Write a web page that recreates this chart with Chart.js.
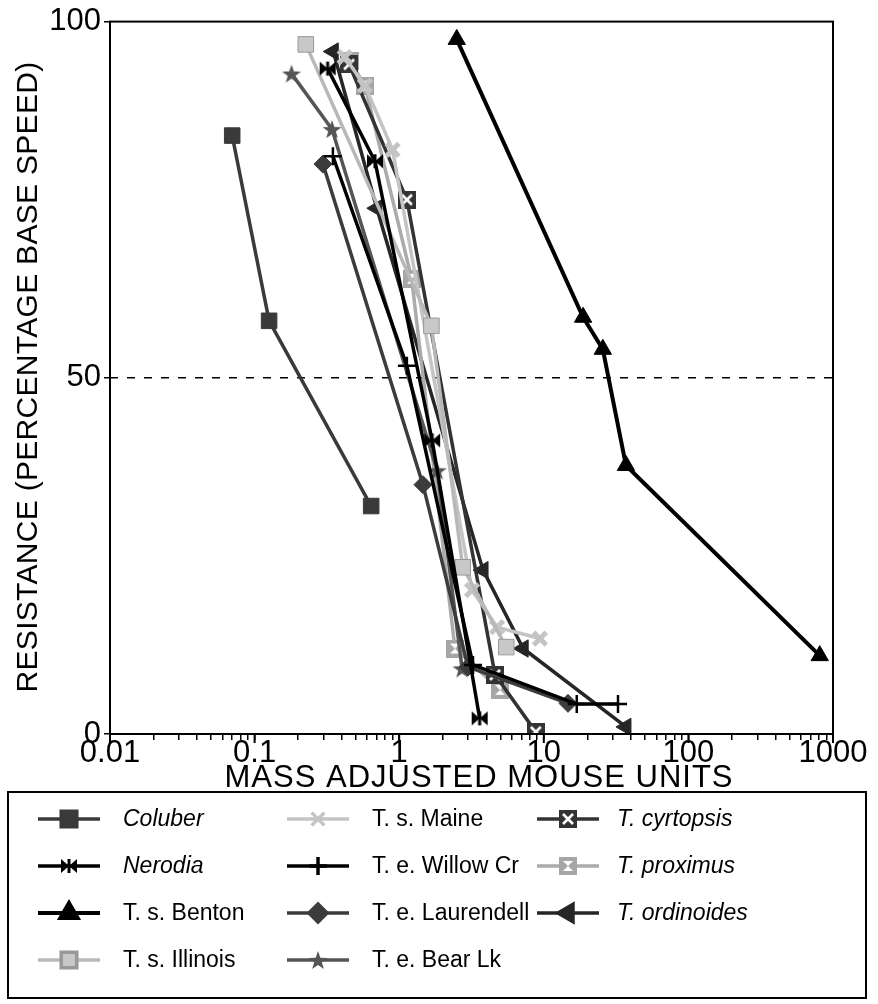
<!DOCTYPE html>
<html lang="en">
<head>
  <meta charset="UTF-8">
  <title>Resistance vs mass adjusted mouse units</title>
  <style>
    body { margin: 0; background: #fff; }
  </style>
</head>
<body>
  <canvas id="chart" width="878" height="1004"></canvas>

  <script src="https://cdn.jsdelivr.net/npm/chart.js"></script>
  <script>
    // data
    const seriesNames = ['Coluber', 'Nerodia', 'T. s. Benton', 'T. s. Illinois', 'T. s. Maine',
      'T. e. Willow Cr', 'T. e. Laurendell', 'T. e. Bear Lk', 'T. cyrtopsis', 'T. proximus', 'T. ordinoides'];
    const italicNames = ['Coluber', 'Nerodia', 'T. cyrtopsis', 'T. proximus', 'T. ordinoides'];

    const coluberX = [0.07, 0.126, 0.64];
    const coluberY = [84, 58, 32];
    const nerodiaX = [0.32, 0.68, 1.69, 3.6];
    const nerodiaY = [93.4, 80.4, 41.2, 2.2];
    const bentonX = [2.5, 18.7, 25.6, 37, 810];
    const bentonY = [97.5, 58.5, 54, 37.7, 11];
    const illinoisX = [0.226, 1.67, 2.75, 5.5];
    const illinoisY = [96.8, 57.3, 23.4, 12.2];
    const maineX = [0.42, 0.58, 0.9, 3.19, 4.75, 9.4];
    const maineY = [95, 91, 82, 20.2, 15, 13.4];
    const willowX = [0.348, 1.13, 3.24, 16.9, 32.6];
    const willowY = [81.1, 51.7, 9.7, 4.2, 4.2];
    const laurendellX = [0.297, 1.46, 2.99, 14.7];
    const laurendellY = [80, 35, 9.4, 4.3];
    const bearX = [0.18, 0.343, 1.83, 2.72];
    const bearY = [92.7, 84.9, 37, 9.2];
    const cyrtopsisX = [0.45, 1.13, 4.6, 8.8];
    const cyrtopsisY = [94, 75, 8.3, 0.3];
    const proximusX = [0.46, 0.58, 1.22, 2.43, 4.98];
    const proximusY = [94.4, 91, 63.9, 12, 6.2];
    const ordinoidesX = [0.35, 0.70, 3.8, 7.2, 37];
    const ordinoidesY = [95.8, 73.8, 23, 12, 1];

    const xTickLabels = [0.01, 0.1, 1, 10, 100, 1000];
    const yTickLabels = [0, 50, 100];
    const halfLine = 50;

    const FONT = '"Liberation Sans", Arial, Helvetica, sans-serif';

    function marker(size, draw) {
      const c = document.createElement('canvas');
      c.width = size; c.height = size;
      draw(c.getContext('2d'), size);
      return c;
    }

    const boxX = marker(18, (g, s) => {
      g.fillStyle = '#333';
      g.fillRect(0, 0, s, s);
      g.strokeStyle = '#fff';
      g.lineWidth = 2.6;
      g.beginPath();
      g.moveTo(4, 4); g.lineTo(s - 4, s - 4);
      g.moveTo(s - 4, 4); g.lineTo(4, s - 4);
      g.stroke();
    });

    const hourglass = marker(18, (g, s) => {
      g.fillStyle = '#a6a6a6';
      g.fillRect(0, 0, s, s);
      g.fillStyle = '#fff';
      g.beginPath();
      g.moveTo(4, 4); g.lineTo(s - 4, 4); g.lineTo(s / 2, s / 2); g.closePath();
      g.moveTo(4, s - 4); g.lineTo(s - 4, s - 4); g.lineTo(s / 2, s / 2); g.closePath();
      g.fill();
    });

    const bowtie = marker(20, (g, s) => {
      g.fillStyle = '#000';
      g.beginPath();
      // two wedges meeting in the middle, plus a short vertical bar
      g.moveTo(2, 3); g.lineTo(s / 2, s / 2); g.lineTo(2, s - 3); g.closePath();
      g.moveTo(s - 2, 3); g.lineTo(s / 2, s / 2); g.lineTo(s - 2, s - 3); g.closePath();
      g.fill();
      g.fillRect(s / 2 - 1.5, 3, 3, s - 6);
    });

    const star = marker(20, (g, s) => {
      g.fillStyle = '#555';
      g.beginPath();
      for (let k = 0; k < 10; k++) {
        const r = k % 2 === 0 ? s / 2 : s / 5;
        const a = -Math.PI / 2 + k * Math.PI / 5;
        const px = s / 2 + r * Math.cos(a), py = s / 2 + 1 + r * Math.sin(a);
        if (k === 0) g.moveTo(px, py); else g.lineTo(px, py);
      }
      g.closePath();
      g.fill();
    });

    const styles = {
      'Coluber':          { color: '#3a3a3a', fill: '#3a3a3a', width: 3.5, point: 'rect', radius: 11 },
      'Nerodia':          { color: '#000', fill: '#000', width: 3.5, point: bowtie, radius: 9 },
      'T. s. Benton':     { color: '#000', fill: '#000', width: 4, point: 'triangle', radius: 10 },
      'T. s. Illinois':   { color: '#b8b8b8', fill: '#c8c8c8', width: 3.5, point: 'rect', radius: 11, border: '#999' },
      'T. s. Maine':      { color: '#c4c4c4', fill: '#c4c4c4', width: 3.5, point: 'crossRot', radius: 9, pbw: 5 },
      'T. e. Willow Cr':  { color: '#000', fill: '#000', width: 3.5, point: 'cross', radius: 9, pbw: 2.5 },
      'T. e. Laurendell': { color: '#3c3c3c', fill: '#3c3c3c', width: 3.5, point: 'rectRot', radius: 9 },
      'T. e. Bear Lk':    { color: '#555', fill: '#555', width: 3.5, point: star, radius: 9 },
      'T. cyrtopsis':     { color: '#333', fill: '#333', width: 3.5, point: boxX, radius: 9 },
      'T. proximus':      { color: '#ababab', fill: '#ababab', width: 3.5, point: hourglass, radius: 9 },
      'T. ordinoides':    { color: '#262626', fill: '#262626', width: 3.5, point: 'triangle', radius: 10, rot: -90 }
    };

    const xs = [coluberX, nerodiaX, bentonX, illinoisX, maineX, willowX, laurendellX, bearX, cyrtopsisX, proximusX, ordinoidesX];
    const ys = [coluberY, nerodiaY, bentonY, illinoisY, maineY, willowY, laurendellY, bearY, cyrtopsisY, proximusY, ordinoidesY];

    const datasets = seriesNames.map((name, i) => {
      const s = styles[name];
      return {
        label: name,
        data: xs[i].map((x, j) => ({ x: x, y: ys[i][j] })),
        showLine: true,
        borderColor: s.color,
        borderWidth: s.width,
        backgroundColor: s.fill,
        pointStyle: s.point,
        pointRadius: s.radius,
        pointRotation: s.rot || 0,
        pointBorderColor: s.border || s.color,
        pointBorderWidth: s.pbw || 1,
        pointBackgroundColor: s.fill
      };
    });

    // dashed 50% line
    datasets.push({
      label: '_half',
      data: [{ x: xTickLabels[0], y: halfLine }, { x: xTickLabels[xTickLabels.length - 1], y: halfLine }],
      showLine: true,
      borderColor: '#000',
      borderWidth: 1.5,
      borderDash: [8, 9],
      pointRadius: 0
    });

    const framePlugin = {
      id: 'frame',
      afterDraw(chart) {
        const ctx = chart.ctx;
        const a = chart.chartArea;
        ctx.save();
        ctx.strokeStyle = '#000';
        ctx.lineWidth = 2;
        ctx.strokeRect(a.left, a.top, a.right - a.left, a.bottom - a.top);

        // longer marks at the decades
        ctx.lineWidth = 2;
        xTickLabels.forEach(v => {
          const px = chart.scales.x.getPixelForValue(v);
          ctx.beginPath();
          ctx.moveTo(px, a.bottom);
          ctx.lineTo(px, a.bottom + 9);
          ctx.stroke();
        });

        // axis titles
        ctx.fillStyle = '#000';
        ctx.font = '31px ' + FONT;
        ctx.letterSpacing = '1px';
        ctx.textAlign = 'center';
        ctx.textBaseline = 'middle';
        ctx.fillText('MASS ADJUSTED MOUSE UNITS', 479, 778);
        ctx.font = '30px ' + FONT;
        ctx.letterSpacing = '0.3px';
        ctx.translate(29, 377);
        ctx.rotate(-Math.PI / 2);
        ctx.fillText('RESISTANCE (PERCENTAGE BASE SPEED)', 0, 0);
        ctx.restore();

        // legend box
        ctx.save();
        ctx.strokeStyle = '#000';
        ctx.lineWidth = 2;
        ctx.strokeRect(8, 792, 858, 206);
        const colLine = [38, 287, 537];
        const colText = [123, 372, 617];
        const rowY = [819, 866, 913, 960];
        seriesNames.forEach((name, i) => {
          const col = Math.floor(i / 4);
          const row = i % 4;
          const s = styles[name];
          const x0 = colLine[col], x1 = x0 + 62, y = rowY[row];
          ctx.strokeStyle = s.color;
          ctx.lineWidth = s.width;
          ctx.setLineDash([]);
          ctx.beginPath();
          ctx.moveTo(x0, y); ctx.lineTo(x1, y);
          ctx.stroke();
          ctx.fillStyle = s.fill;
          ctx.strokeStyle = s.border || s.color;
          Chart.helpers.drawPoint(ctx, {
            pointStyle: s.point, radius: s.radius, rotation: s.rot || 0, borderWidth: s.pbw || 1
          }, (x0 + x1) / 2, y);
          ctx.fillStyle = '#000';
          ctx.font = (italicNames.includes(name) ? 'italic ' : '') + '23px ' + FONT;
          ctx.textAlign = 'left';
          ctx.textBaseline = 'middle';
          ctx.fillText(name, colText[col], y + 1);
        });
        ctx.restore();
      }
    };

    const minorMult = [1, 2, 3, 4, 5, 6, 7, 8, 9];

    new Chart(document.getElementById('chart').getContext('2d'), {
      type: 'scatter',
      data: { datasets: datasets },
      options: {
        responsive: false,
        animation: false,
        layout: { padding: { left: 0, top: 20, right: 45, bottom: 200 } },
        plugins: { legend: { display: false }, tooltip: { enabled: false } },
        scales: {
          x: {
            type: 'logarithmic',
            min: xTickLabels[0],
            max: xTickLabels[xTickLabels.length - 1],
            afterFit: s => { s.height = 70; },
            afterBuildTicks: s => {
              const t = [];
              xTickLabels.forEach((v, i) => {
                if (i === xTickLabels.length - 1) { t.push({ value: v }); return; }
                minorMult.forEach(m => t.push({ value: +(v * m).toPrecision(3) }));
              });
              s.ticks = t;
            },
            border: { display: true, color: '#000', width: 2 },
            grid: { drawOnChartArea: false, drawTicks: true, tickLength: 6, color: '#000', lineWidth: 1.5 },
            ticks: {
              autoSkip: false,
              maxRotation: 0,
              padding: -5,
              color: '#000',
              font: { family: FONT, size: 31 },
              callback: v => xTickLabels.includes(v) ? String(v) : ''
            }
          },
          y: {
            min: 0,
            max: 100,
            afterFit: s => { s.width = 110; },
            afterBuildTicks: s => { s.ticks = yTickLabels.map(v => ({ value: v })); },
            border: { display: true, color: '#000', width: 2 },
            grid: { drawOnChartArea: false, drawTicks: true, tickLength: 6, color: '#000', lineWidth: 1.5 },
            ticks: {
              padding: 3,
              color: '#000',
              font: { family: FONT, size: 31 }
            }
          }
        }
      },
      plugins: [framePlugin]
    });
  </script>
</body>
</html>
